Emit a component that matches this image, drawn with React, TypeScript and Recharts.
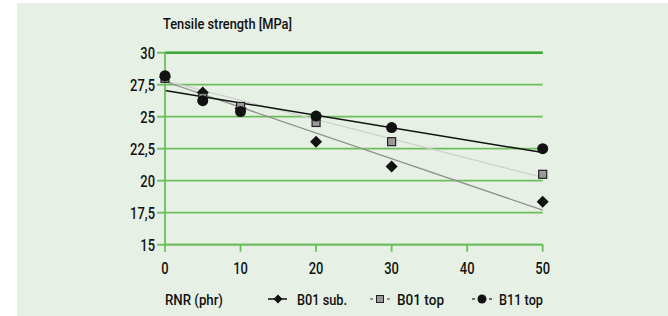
import React from "react";
import { LineChart, Line, XAxis, YAxis, CartesianGrid, ReferenceLine } from "recharts";

const xValues = [0, 5, 10, 20, 30, 50];
const b01Sub = [28.1, 26.9, 25.65, 23.05, 21.1, 18.35];
const b01Top = [28.0, 26.5, 25.8, 24.55, 23.05, 20.5];
const b11Top = [28.2, 26.25, 25.4, 25.05, 24.15, 22.5];

const trendX = [0, 50];
const b01SubTrend = [27.75, 17.7];
const b01TopTrend = [27.8, 20.25];
const b11TopTrend = [27.05, 22.2];

const xTicks = [0, 10, 20, 30, 40, 50];
const yTicks = [15, 17.5, 20, 22.5, 25, 27.5, 30];

const title = "Tensile strength [MPa]";
const xTitle = "RNR (phr)";
const seriesNames = ["B01 sub.", "B01 top", "B11 top"];

const toPoints = (xs: number[], ys: number[]) => xs.map((x, i) => ({ x, y: ys[i] }));

const FONT = "Roboto, 'DejaVu Sans', sans-serif";
const GRID = "#6cbd5c";
const TOP = "#3fa83a";
const SX = 0.76;

const Diamond = (p: any) => {
  const { cx, cy } = p;
  if (cx == null || cy == null) return null;
  const s = 6;
  return <polygon key={`d${cx}`} points={`${cx},${cy - s} ${cx + s},${cy} ${cx},${cy + s} ${cx - s},${cy}`} fill="#111" />;
};
const Square = (p: any) => {
  const { cx, cy } = p;
  if (cx == null || cy == null) return null;
  return <rect key={`s${cx}`} x={cx - 4} y={cy - 4} width={8} height={8} fill="#9a9a9a" stroke="#222" strokeWidth={1.2} />;
};
const Circle = (p: any) => {
  const { cx, cy } = p;
  if (cx == null || cy == null) return null;
  return <circle key={`c${cx}`} cx={cx} cy={cy} r={5.5} fill="#111" />;
};

const fmt = (v: number) => String(v).replace(".", ",");

const YTick = (p: any) => {
  const { x, y, payload } = p;
  return (
    <text x={x} y={y} dy={6} textAnchor="end" fill="#111" fontSize={17} fontWeight={500} fontFamily={FONT}
      transform={`translate(${x},0) scale(${SX},1) translate(${-x},0)`}>
      {fmt(payload.value)}
    </text>
  );
};
const XTick = (p: any) => {
  const { x, y, payload } = p;
  return (
    <text x={x} y={y} dy={12} textAnchor="middle" fill="#111" fontSize={17} fontWeight={500} fontFamily={FONT}
      transform={`translate(${x},0) scale(${SX},1) translate(${-x},0)`}>
      {payload.value}
    </text>
  );
};

const FitText = ({ text, left, baseline, width, size }: { text: string; left: number; baseline: number; width: number; size: number }) => (
  <svg style={{ position: "absolute", left, top: baseline - size, overflow: "visible" }} width={width} height={size * 1.4}>
    <text x={0} y={size} fontSize={size} fontWeight={500} fontFamily={FONT} fill="#111" textLength={width} lengthAdjust="spacingAndGlyphs">
      {text}
    </text>
  </svg>
);

const LegendIcon = ({ kind, left, cy }: { kind: number; left: number; cy: number }) => (
  <svg width={22} height={12} style={{ position: "absolute", left, top: cy - 6 }}>
    {kind === 0 && (
      <>
        <line x1={1} y1={6} x2={20} y2={6} stroke="#111" strokeWidth={1.5} />
        <polygon points="11,1.5 15.5,6 11,10.5 6.5,6" fill="#111" />
      </>
    )}
    {kind === 1 && (
      <>
        <line x1={1} y1={6} x2={21} y2={6} stroke="#777" strokeWidth={1.3} strokeDasharray="3 14 3" />
        <rect x={7.5} y={2.5} width={7} height={7} fill="#9a9a9a" stroke="#222" strokeWidth={1} />
      </>
    )}
    {kind === 2 && (
      <>
        <line x1={1} y1={6} x2={21} y2={6} stroke="#444" strokeWidth={1.3} strokeDasharray="3 14 3" />
        <circle cx={11} cy={6} r={4.5} fill="#111" />
      </>
    )}
  </svg>
);

export default function App() {
  const iconX = [267, 369, 471];
  const textX = [297, 397, 499];
  const textW = [50, 47, 44];
  return (
    <div style={{ position: "relative", width: 668, height: 316, background: "#fff", overflow: "hidden", fontFamily: FONT }}>
      <style>{`body{margin:0}`}</style>
      <div style={{ position: "absolute", left: 17, top: 3, width: 651, height: 313, background: "#e6f0e4" }} />
      <FitText text={title} left={163} baseline={28.8} width={129} size={14.5} />
      <div style={{ position: "absolute", left: 0, top: 0 }}>
        <LineChart width={668} height={316} margin={{ top: 52.7, right: 125.3, bottom: 41.3, left: 0 }}>
          <CartesianGrid horizontal vertical={false} stroke={GRID} strokeWidth={1.8} />
          <XAxis
            type="number"
            dataKey="x"
            domain={[0, 50]}
            ticks={xTicks}
            height={30}
            tickSize={7}
            tickMargin={10}
            axisLine={{ stroke: GRID, strokeWidth: 1.8 }}
            tickLine={{ stroke: GRID, strokeWidth: 1.8 }}
            tick={XTick}
          />
          <YAxis
            type="number"
            dataKey="y"
            domain={[15, 30]}
            ticks={yTicks}
            width={165}
            tickSize={8}
            tickMargin={2}
            axisLine={{ stroke: GRID, strokeWidth: 1.8 }}
            tickLine={{ stroke: GRID, strokeWidth: 1.8 }}
            tick={YTick}
          />
          <ReferenceLine y={30} stroke={TOP} strokeWidth={2.5} />
          <Line data={toPoints(trendX, b01TopTrend)} dataKey="y" stroke="#cfcfcf" strokeWidth={1.2} dot={false} isAnimationActive={false} />
          <Line data={toPoints(trendX, b01SubTrend)} dataKey="y" stroke="#8f8f8f" strokeWidth={1.2} dot={false} isAnimationActive={false} />
          <Line data={toPoints(trendX, b11TopTrend)} dataKey="y" stroke="#111" strokeWidth={1.5} dot={false} isAnimationActive={false} />
          <Line data={toPoints(xValues, b01Sub)} dataKey="y" name={seriesNames[0]} stroke="none" dot={Diamond} activeDot={false} isAnimationActive={false} />
          <Line data={toPoints(xValues, b01Top)} dataKey="y" name={seriesNames[1]} stroke="none" dot={Square} activeDot={false} isAnimationActive={false} />
          <Line data={toPoints(xValues, b11Top)} dataKey="y" name={seriesNames[2]} stroke="none" dot={Circle} activeDot={false} isAnimationActive={false} />
        </LineChart>
      </div>
      <FitText text={xTitle} left={165} baseline={304} width={58} size={15.5} />
      {seriesNames.map((n, i) => (
        <React.Fragment key={n}>
          <LegendIcon kind={i} left={iconX[i]} cy={298.5} />
          <FitText text={n} left={textX[i]} baseline={304} width={textW[i]} size={15.5} />
        </React.Fragment>
      ))}
    </div>
  );
}
